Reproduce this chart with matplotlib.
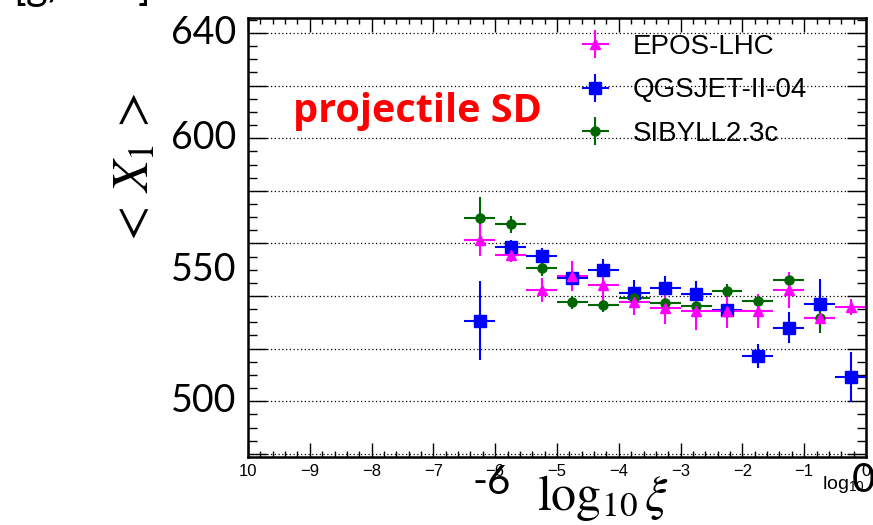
import matplotlib
matplotlib.use("Agg")
import matplotlib.pyplot as plt
from matplotlib.ticker import MultipleLocator

# bin centres in log10(xi), bins are 0.5 wide
log_xi = [-6.25, -5.75, -5.25, -4.75, -4.25, -3.75, -3.25, -2.75, -2.25, -1.75, -1.25, -0.75, -0.25]

epos = [561.3, 555.6, 542.3, 547.7, 544.2, 537.8, 535.6, 534.3, 534.4, 534.3, 542.3, 531.5, 535.9]
epos_err = [6.0, 2.5, 4.5, 5.7, 6.0, 5.0, 6.3, 7.3, 6.6, 6.6, 7.0, 2.0, 3.0]

qgsjet = [530.6, 558.8, 555.2, 547.0, 549.9, 541.0, 542.9, 540.6, 534.6, 517.3, 528.0, 537.0, 509.3]
qgsjet_err = [15.0, 2.5, 3.0, 2.0, 4.0, 5.0, 4.8, 5.3, 4.0, 4.5, 6.0, 9.5, 9.5]

# no SIBYLL entry in the last bin
sibyll = [569.8, 567.3, 550.8, 537.6, 536.6, 539.1, 537.2, 536.1, 541.9, 538.1, 546.1, 531.5]
sibyll_err = [8.0, 3.2, 3.0, 2.5, 2.5, 2.0, 2.0, 2.0, 2.5, 2.0, 2.5, 5.7]

half_bin = 0.25

xtick_vals = list(range(-10, 1))
xtick_labels = ["10", "\u22129", "\u22128", "\u22127", "\u22126", "\u22125",
                "\u22124", "\u22123", "\u22122", "\u22121", "0"]
ytick_big = [640, 600, 550, 500]


def main():
    plt.rcParams["font.family"] = ["Liberation Sans", "DejaVu Sans"]
    plt.rcParams["mathtext.fontset"] = "stix"

    W, H = 873, 525
    fig = plt.figure(figsize=(W / 100, H / 100), dpi=100)
    ax = fig.add_axes([248 / W, 1 - 457 / H, (866 - 248) / W, (457 - 18) / H])

    kw = dict(linestyle="none", elinewidth=1.5, capsize=0)
    h_q = ax.errorbar(log_xi, qgsjet, yerr=qgsjet_err, xerr=half_bin,
                      color="#0000ff", marker="s", markersize=8, **kw)
    h_s = ax.errorbar(log_xi[:len(sibyll)], sibyll, yerr=sibyll_err, xerr=half_bin,
                      color="#006600", marker="o", markersize=6.5, **kw)
    h_e = ax.errorbar(log_xi, epos, yerr=epos_err, xerr=half_bin,
                      color="#ff00ff", marker="^", markersize=7, **kw)

    ax.set_xlim(-10, 0)
    ax.set_ylim(478.8, 645.7)

    ax.set_xticks(xtick_vals)
    ax.set_xticklabels(xtick_labels)
    ax.xaxis.set_minor_locator(MultipleLocator(0.2))
    ax.yaxis.set_major_locator(MultipleLocator(20))
    ax.yaxis.set_minor_locator(MultipleLocator(5))

    ax.tick_params(axis="both", which="both", direction="in", top=True, right=True)
    ax.tick_params(axis="x", which="major", length=10, width=1, labelsize=12, pad=5)
    ax.tick_params(axis="x", which="minor", length=4.5, width=1)
    ax.tick_params(axis="y", which="major", length=13.5, width=1, labelleft=False)
    ax.tick_params(axis="y", which="minor", length=6.5, width=1)
    for s in ax.spines.values():
        s.set_linewidth(1.8)

    ax.yaxis.grid(True, which="major", color="black", linestyle=(0, (1, 2)), linewidth=0.9)
    ax.set_axisbelow(True)

    ax.legend([h_e, h_q, h_s], ["EPOS-LHC", "QGSJET-II-04", "SIBYLL2.3c"],
              loc="upper left", bbox_to_anchor=(569 / W, 1 - 34 / H),
              bbox_transform=fig.transFigure, frameon=False, fontsize=20,
              handlelength=1.9, handletextpad=0.4, labelspacing=0.63,
              borderpad=0, borderaxespad=0)

    # large y labels
    ytr = ax.get_yaxis_transform()
    for v in ytick_big:
        ax.text(-0.019, v, str(v), transform=ytr, ha="right", va="center",
                fontsize=27, family="Lato")

    fig.text(135 / W, 1 - 170 / H, r"$<\,X_1\,>$", rotation=90, ha="center", va="center",
             fontsize=37)
    fig.text(13 / W, 1 - 1 / H, r"[g/cm$^2$]", ha="left", va="baseline",
             fontsize=30, family="Lato")

    fig.text(293 / W, 1 - 122 / H, "projectile SD", ha="left", va="baseline",
             fontsize=28.5, family="Open Sans", fontweight="bold", color="#ff0000")

    # x axis titles
    fig.text(822 / W, 1 - 489 / H, r"log$_{\mathregular{10}}$", ha="left", va="baseline",
             fontsize=14)
    fig.text(492 / W, 1 - 483 / H, "-6", ha="center", va="center", fontsize=29, family="Lato")
    fig.text(863 / W, 1 - 481 / H, "0", ha="center", va="center", fontsize=29, family="Lato")
    fig.text(537 / W, 1 - 510 / H, r"$\log_{10}\xi$", ha="left", va="baseline", fontsize=36)

    fig.savefig("out.png", dpi=100)


if __name__ == "__main__":
    main()
